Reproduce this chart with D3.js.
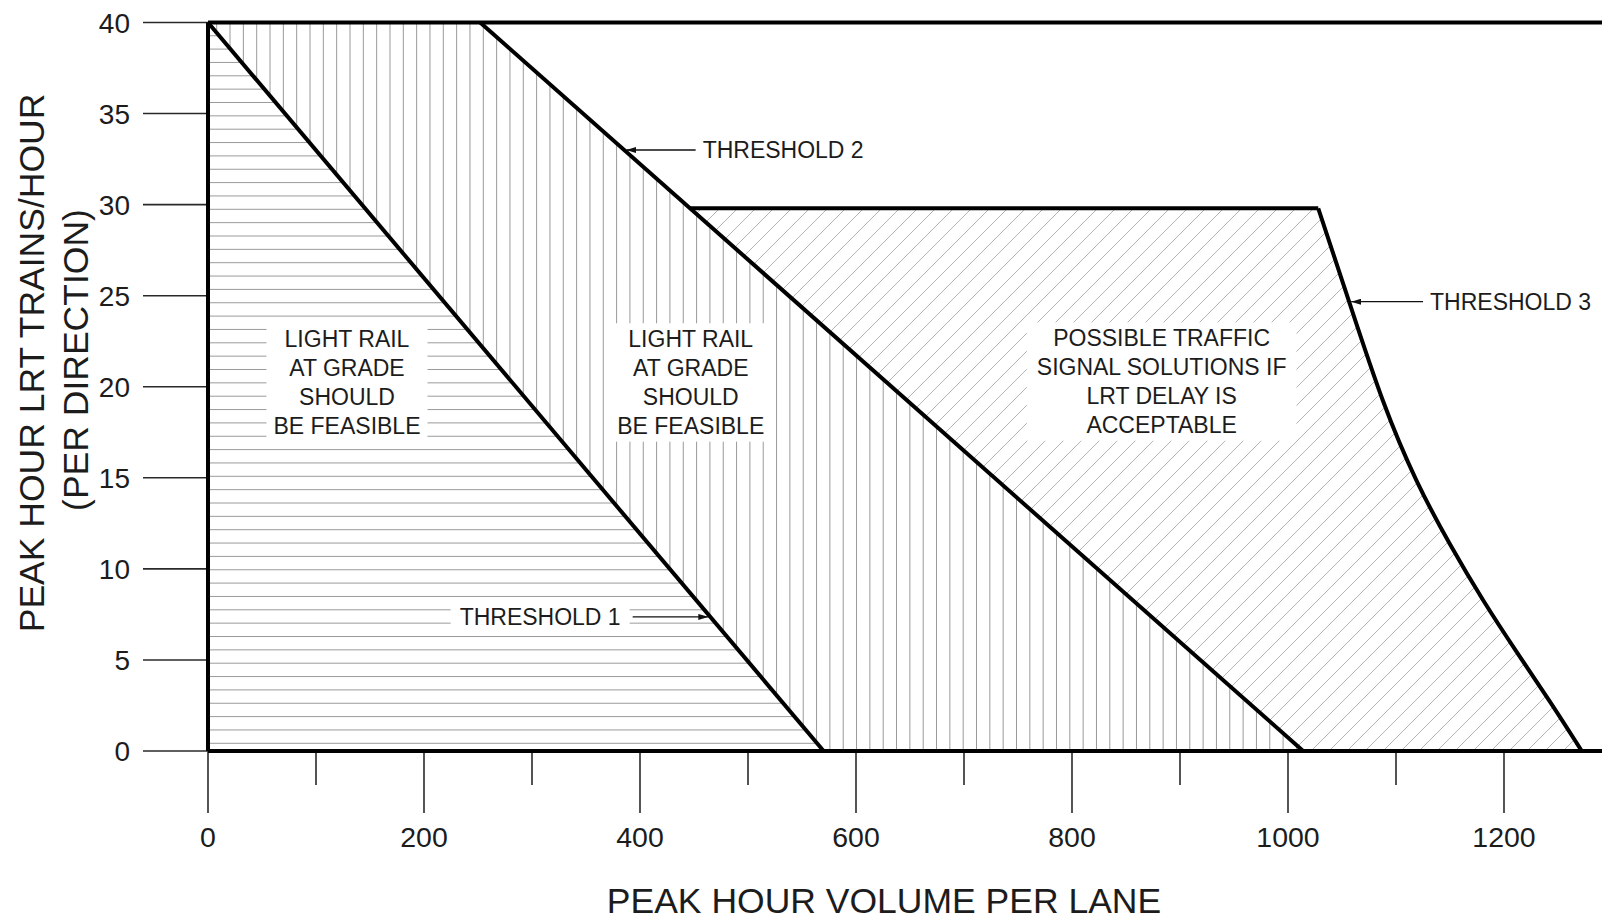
<!DOCTYPE html>
<html>
<head>
<meta charset="utf-8">
<script src="https://cdn.jsdelivr.net/npm/d3@7"></script>
<style>
  body { margin: 0; background: #fff; }
  text { font-family: "Liberation Sans", Arial, sans-serif; fill: #1c1c1c; }
</style>
</head>
<body>
<div id="chart"></div>
<script>
// ---- data ----
var xMajorTicks = [0, 200, 400, 600, 800, 1000, 1200];
var xMinorTicks = [100, 300, 500, 700, 900, 1100];
var yTicks = [0, 5, 10, 15, 20, 25, 30, 35, 40];

var threshold1 = [[0, 40], [570, 0]];
var threshold2 = [[252, 40], [1014, 0]];
var plateauY = 29.8;      // flat top of the possible-solutions zone
var plateauEndX = 1028;
var threshold3 = [[1028, 29.8], [1057, 24.6], [1088, 19.0], [1119, 14.7], [1150, 11.3],
                  [1181, 8.2], [1212, 5.4], [1243, 2.7], [1272, 0]];

var zoneLabels = [
  ["LIGHT RAIL", "AT GRADE", "SHOULD", "BE FEASIBLE"],
  ["LIGHT RAIL", "AT GRADE", "SHOULD", "BE FEASIBLE"],
  ["POSSIBLE TRAFFIC", "SIGNAL SOLUTIONS IF", "LRT DELAY IS", "ACCEPTABLE"]
];
var thresholdNames = ["THRESHOLD 1", "THRESHOLD 2", "THRESHOLD 3"];
var thresholdLabelY = [7.36, 33.0, 24.67];

var xTitle = "PEAK HOUR VOLUME PER LANE";
var yTitle = ["PEAK HOUR LRT TRAINS/HOUR", "(PER DIRECTION)"];

// ---- layout ----
var W = 1602, H = 921;
var x = d3.scaleLinear().domain([0, 1200]).range([208, 1504]);
var y = d3.scaleLinear().domain([0, 40]).range([751, 22.5]);
var xEnd = x.invert(W + 5);

var zoneLabelPos = [[128.7, 20.25], [447, 20.25], [883, 20.3]];   // label centres, data units
var thresholdTextX = [233, 458, 1131.5];                          // where each label starts
var lineW = 4;

var svg = d3.select("#chart").append("svg")
  .attr("width", W)
  .attr("height", H)
  .style("display", "block");

svg.append("rect").attr("width", W).attr("height", H).attr("fill", "#fff");

var defs = svg.append("defs");
var line = d3.line().x(function(d) { return x(d[0]); }).y(function(d) { return y(d[1]); });
var curve3 = d3.line().x(function(d) { return x(d[0]); }).y(function(d) { return y(d[1]); })
  .curve(d3.curveBasis);

// x of threshold 2 at the plateau height
function t2At(v) {
  var a = threshold2[0], b = threshold2[1];
  return a[0] + (a[1] - v) / (a[1] - b[1]) * (b[0] - a[0]);
}

// where a polyline crosses a given y value
function xAtY(pts, v) {
  for (var i = 0; i < pts.length - 1; i++) {
    var a = pts[i], b = pts[i + 1];
    if ((a[1] - v) * (b[1] - v) <= 0) {
      return a[0] + (a[1] - v) / (a[1] - b[1]) * (b[0] - a[0]);
    }
  }
  return pts[pts.length - 1][0];
}

var zone1 = line([[0, 0], [0, 40], threshold1[1]]) + "Z";
var zone2 = line([[0, 40], threshold2[0], threshold2[1], threshold1[1]]) + "Z";
var zone3 = line([[t2At(plateauY), plateauY], [plateauEndX, plateauY]]) +
  curve3(threshold3).replace(/^M/, "L") +
  "L" + x(threshold2[1][0]) + "," + y(0) + "Z";

[["clip1", zone1], ["clip2", zone2], ["clip3", zone3]].forEach(function(c) {
  defs.append("clipPath").attr("id", c[0]).append("path").attr("d", c[1]);
});

// ---- hatching ----
var hatchG = svg.append("g");

hatchG.append("g").attr("clip-path", "url(#clip1)")
  .selectAll("line")
  .data(d3.range(y(0) - 7.7, y(40), -13.35))
  .enter().append("line")
  .attr("x1", x(0)).attr("x2", x(1300))
  .attr("y1", function(d) { return d; }).attr("y2", function(d) { return d; })
  .attr("stroke", "#9a9a9a").attr("stroke-width", 1);

hatchG.append("g").attr("clip-path", "url(#clip2)")
  .selectAll("line")
  .data(d3.range(x(0) + 8.7, x(1100), 13.33))
  .enter().append("line")
  .attr("x1", function(d) { return d; }).attr("x2", function(d) { return d; })
  .attr("y1", y(40)).attr("y2", y(0))
  .attr("stroke", "#9a9a9a").attr("stroke-width", 1);

hatchG.append("g").attr("clip-path", "url(#clip3)")
  .selectAll("line")
  .data(d3.range(100, 1620, 18))
  .enter().append("line")
  .attr("x1", function(d) { return d; }).attr("y1", y(0) + 5)
  .attr("x2", function(d) { return d + 600; }).attr("y2", y(0) + 5 - 600)
  .attr("stroke", "#b4b4b4").attr("stroke-width", 1);

// ---- zone labels with white boxes ----
zoneLabels.forEach(function(lines, i) {
  var g = svg.append("g");
  var box = g.append("rect").attr("fill", "#fff");
  var cx = x(zoneLabelPos[i][0]), cy = y(zoneLabelPos[i][1]);
  var lh = 28.8;
  g.selectAll("text")
    .data(lines)
    .enter().append("text")
    .attr("x", cx)
    .attr("y", function(d, j) { return cy + (j - (lines.length - 1) / 2) * lh; })
    .attr("dy", "0.36em")
    .attr("text-anchor", "middle")
    .attr("font-size", 23)
    .text(function(d) { return d; });
  var bb = g.node().getBBox();
  var pad = i === 2 ? 10 : 7;
  box.attr("x", bb.x - pad).attr("y", bb.y - 3).attr("width", bb.width + 2 * pad).attr("height", bb.height + 6);
});

// ---- axes ----
var axisG = svg.append("g");

axisG.selectAll(".ytick")
  .data(yTicks)
  .enter().append("line")
  .attr("x1", 143).attr("x2", x(0))
  .attr("y1", function(d) { return y(d); }).attr("y2", function(d) { return y(d); })
  .attr("stroke", "#2a2a2a").attr("stroke-width", 1.6);

axisG.selectAll(".ylab")
  .data(yTicks)
  .enter().append("text")
  .attr("x", 130)
  .attr("y", function(d) { return y(d); })
  .attr("dy", "0.36em")
  .attr("text-anchor", "end")
  .attr("font-size", 28)
  .text(function(d) { return d; });

axisG.selectAll(".xmaj")
  .data(xMajorTicks)
  .enter().append("line")
  .attr("x1", function(d) { return x(d); }).attr("x2", function(d) { return x(d); })
  .attr("y1", y(0)).attr("y2", y(0) + 62)
  .attr("stroke", "#2a2a2a").attr("stroke-width", 1.6);

axisG.selectAll(".xmin")
  .data(xMinorTicks)
  .enter().append("line")
  .attr("x1", function(d) { return x(d); }).attr("x2", function(d) { return x(d); })
  .attr("y1", y(0)).attr("y2", y(0) + 34)
  .attr("stroke", "#2a2a2a").attr("stroke-width", 1.6);

axisG.selectAll(".xlab")
  .data(xMajorTicks)
  .enter().append("text")
  .attr("x", function(d) { return x(d); })
  .attr("y", 847)
  .attr("text-anchor", "middle")
  .attr("font-size", 28.5)
  .text(function(d) { return d; });

// axis titles
svg.append("text")
  .attr("x", 884).attr("y", 913)
  .attr("text-anchor", "middle")
  .attr("font-size", 35.5)
  .text(xTitle);

svg.selectAll(".ytitle")
  .data(yTitle)
  .enter().append("text")
  .attr("transform", function(d, i) {
    return i === 0 ? "translate(44,363) rotate(-90)" : "translate(88,360) rotate(-90)";
  })
  .attr("text-anchor", "middle")
  .attr("font-size", 35.5)
  .text(function(d) { return d; });

// ---- heavy boundary lines ----
var heavy = svg.append("g")
  .attr("fill", "none")
  .attr("stroke", "#000")
  .attr("stroke-width", lineW)
  .attr("stroke-linejoin", "miter");

heavy.append("path").attr("d", line([[0, 0], [0, 40]]));
heavy.append("path").attr("d", line([[0, 40], [xEnd, 40]]));
heavy.append("path").attr("d", line([[0, 0], [xEnd, 0]]));
heavy.append("path").attr("d", line(threshold1));
heavy.append("path").attr("d", line(threshold2));
heavy.append("path").attr("d", line([[t2At(plateauY), plateauY], [plateauEndX, plateauY]]));
heavy.append("path").attr("d", curve3(threshold3));

// ---- threshold callouts ----
defs.append("marker")
  .attr("id", "arrow")
  .attr("viewBox", "0 0 10 6")
  .attr("refX", 10).attr("refY", 3)
  .attr("markerWidth", 10).attr("markerHeight", 6)
  .attr("markerUnits", "userSpaceOnUse")
  .attr("orient", "auto")
  .append("path").attr("d", "M0,0L10,3L0,6Z").attr("fill", "#111");

var thresholdLines = [threshold1, threshold2, threshold3];
thresholdNames.forEach(function(name, i) {
  var g = svg.append("g");
  var ty = y(thresholdLabelY[i]);
  var box = g.append("rect").attr("fill", "#fff");
  var t = g.append("text")
    .attr("x", x(thresholdTextX[i]))
    .attr("y", ty)
    .attr("dy", "0.36em")
    .attr("font-size", 23)
    .text(name);
  var bb = t.node().getBBox();
  box.attr("x", bb.x - 9).attr("y", bb.y).attr("width", bb.width + 18).attr("height", bb.height);

  var hit = x(xAtY(thresholdLines[i], thresholdLabelY[i]));
  var start = i === 0 ? bb.x + bb.width + 12 : bb.x - 7;
  var tip = i === 0 ? hit - lineW / 2 : hit + lineW / 2;
  g.append("line")
    .attr("x1", start).attr("y1", ty)
    .attr("x2", tip).attr("y2", ty)
    .attr("stroke", "#111").attr("stroke-width", 1.3)
    .attr("marker-end", "url(#arrow)");
});
</script>
</body>
</html>
